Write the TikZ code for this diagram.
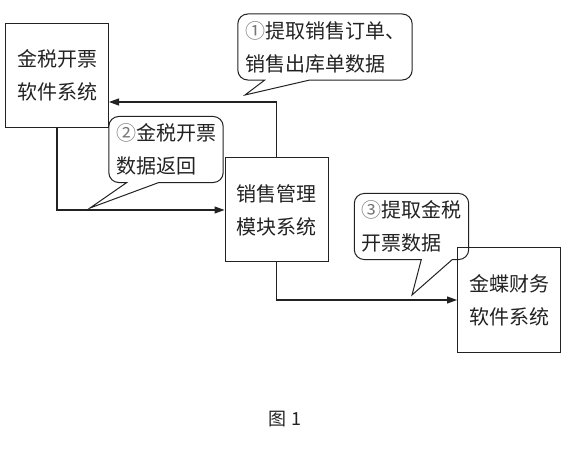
\documentclass[tikz,border=0pt]{standalone}
\usepackage{fontspec}
\setmainfont{Noto Sans CJK SC}
\usetikzlibrary{arrows.meta, positioning}
\definecolor{lnGray}{HTML}{222222}
\definecolor{numGray}{HTML}{777777}

\begin{document}
\begin{tikzpicture}[x=1pt, y=-1pt,
    every node/.style={font=\fontsize{20pt}{33pt}\selectfont, text=lnGray},
    box/.style={draw=lnGray, line width=1pt, minimum width=103pt, minimum height=104pt, align=center},
    bub/.style={align=left, inner xsep=7pt, inner ysep=7pt},
    bubline/.style={draw=lnGray, line width=1pt},
    arr/.style={-{Triangle[length=10pt, width=7pt]}, line width=1.1pt, draw=lnGray}
  ]
  \useasboundingbox (0,0) rectangle (570,454);
  % --- the three systems ---
  \node[box] (tax) at (57,75.5) {金税开票\\软件系统};
  \node[box] (sales) at (276.5,210) {销售管理\\模块系统};
  \node[box] (kd) at (509,300) {金蝶财务\\软件系统};

  \draw[arr] (sales.north) |- ([yshift=-26.5pt]tax.east);
  \draw[arr] (tax.south) |- (sales.west);
  \draw[arr] (sales.south) |- (kd.west);

  % --- callouts ---
  \node[bub] (q1) at (325,47) {{\color{numGray}①}提取销售订单、\\销售出库单数据};
  \node[bub] (q2) at (166,149.5) {{\color{numGray}②}金税开票\\数据返回};
  \node[bub] (q3) at (411.5,226.5) {{\color{numGray}③}提取金税\\开票数据};
  \coordinate (t1) at (245,95);
  \coordinate (t2) at (90,208);
  \coordinate (t3) at (412,295);

  \draw[bubline] (t1) -- ([xshift=72pt]q1.south west) [rounded corners=10pt] -- (q1.south east) -- (q1.north east)
    -- (q1.north west) -- (q1.south west) [sharp corners] -- ([xshift=27pt]q1.south west) -- cycle;
  \draw[bubline] (t2) -- ([xshift=50pt]q2.south west) [rounded corners=10pt] -- (q2.south east) -- (q2.north east)
    -- (q2.north west) -- (q2.south west) [sharp corners] -- ([xshift=18pt]q2.south west) -- cycle;
  \draw[bubline] (t3) -- ([xshift=98pt]q3.south west) [rounded corners=10pt] -- (q3.south east) -- (q3.north east)
    -- (q3.north west) -- (q3.south west) [sharp corners] -- ([xshift=67pt]q3.south west) -- cycle;

  \node[font=\fontsize{18pt}{18pt}\selectfont] (cap) at (285,419) {图 1};
\end{tikzpicture}
\end{document}
